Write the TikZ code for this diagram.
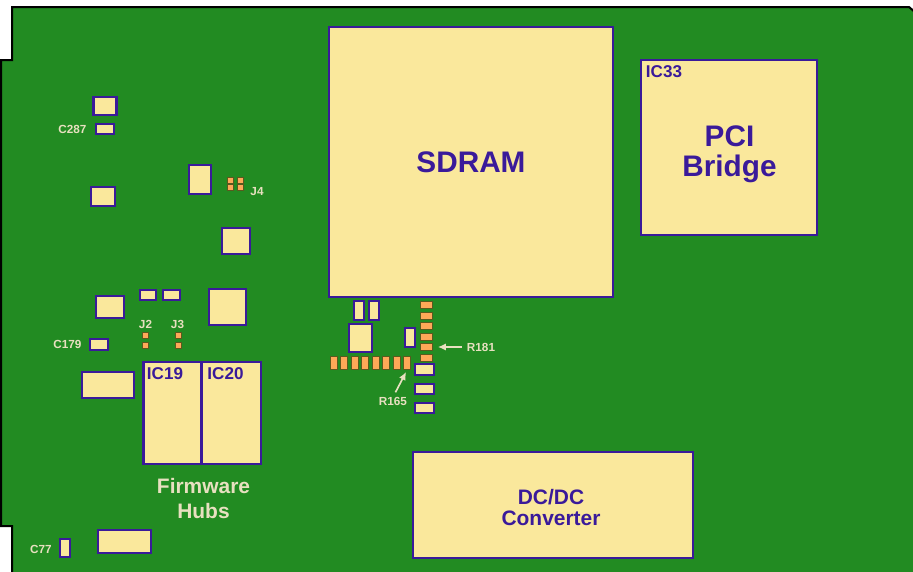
\documentclass[tikz,border=0pt]{standalone}
\usepackage{fontspec}
\setmainfont{Liberation Sans}
\usepackage{tikz}
\usetikzlibrary{positioning, arrows.meta}

\definecolor{board_green}{HTML}{228B22}
\definecolor{chip_fill}{HTML}{FAE89C}
\definecolor{chip_blue}{HTML}{3A1A9A}
\definecolor{pad_fill}{HTML}{FFA858}
\definecolor{pad_edge}{HTML}{5A5A1E}
\definecolor{note_cream}{HTML}{E8E0C0}

\begin{document}
\begin{tikzpicture}[
    x=0.75pt, y=-0.75pt,
    chip/.style 2 args = {draw=chip_blue, fill=chip_fill, line width=1.9pt, rectangle, inner sep=0pt, minimum width=#1*0.75pt, minimum height=#2*0.75pt},
    pad/.style 2 args = {draw=pad_edge, fill=pad_fill, line width=0.7pt, rectangle, inner sep=0pt, minimum width=#1*0.75pt, minimum height=#2*0.75pt},
    chip_big/.style = {text=chip_blue, font=\fontsize{22.3}{22.5}\bfseries\selectfont, align=center},
    chip_mid/.style = {text=chip_blue, font=\fontsize{15.7}{15.8}\bfseries\selectfont, align=center},
    chip_tag/.style = {text=chip_blue, font=\fontsize{12.8}{14}\bfseries\selectfont, inner sep=0pt},
    note/.style = {text=note_cream, font=\fontsize{8.8}{10}\bfseries\selectfont, inner sep=0pt},
    arrow_note/.style = {-{Latex[length=6pt, width=5.5pt]}, line width=1.25pt, note_cream}
]
\useasboundingbox (0,0) rectangle (913,571);
\clip (0,0) rectangle (913,571);

% --- Board outline ---
\draw[fill=board_green, draw=black, line width=1.5pt] (12,575) -- (12,526) -- (1,526) -- (1,60) -- (12,60) -- (12,7) -- (909,7) -- (916,13) -- (916,575) -- cycle;

% --- Large parts ---
\node[chip={284}{270}, chip_big] (sdram) at (471,162) {\raisebox{-2pt}{SDRAM}};
\node[chip={176}{175}] (ic33) at (729,147.5) {};
\node[chip={280}{106}] (dcdc) at (553,505) {};
\node[chip={58}{102}] (ic19) at (172.5,413) {};
\node[chip={59}{102}] (ic20) at (231.5,413) {};

\node[chip_tag] (ic33_label) at (664,72) {IC33};
\node[chip_big] (pci_label) at (729.5,154) {PCI\\Bridge};
\node[chip_mid] (dcdc_label) at (551,507.5) {DC/DC\\Converter};
\node[chip_tag] (ic19_label) at (165,374) {IC19};
\node[chip_tag] (ic20_label) at (225.5,374) {IC20};

% --- Small parts, left side ---
\node[chip={23}{18}] (u_top) at (105,106) {};
\node[chip={18}{10}] (c287) at (105,129) {};
\node[chip={24}{19}] (u_mid) at (103,196.5) {};
\node[chip={22}{29}] (u_tall) at (200,179.5) {};
\node[chip={28}{26}] (u_square) at (236,241) {};
\node[chip={28}{22}] (u_left) at (110,307) {};
\node[chip={16}{10}] (r_a) at (148,295) {};
\node[chip={17}{10}] (r_b) at (171.5,295) {};
\node[chip={37}{36}] (u_big) at (227.5,307) {};
\node[chip={18}{11}] (c179) at (99,344.5) {};
\node[chip={52}{26}] (u_wide) at (108,385) {};
\node[chip={53}{23}] (u_bottom) at (124.5,541.5) {};
\node[chip={10}{18}] (c77) at (65,548) {};

% --- Small parts under the SDRAM ---
\node[chip={10}{19}] (u_p1) at (359,310.5) {};
\node[chip={10}{19}] (u_p2) at (374,310.5) {};
\node[chip={23}{28}] (u_reg) at (360.5,338) {};
\node[chip={10}{19}] (u_s) at (410,337.5) {};
\node[chip={19}{11}] (c_a) at (424.5,369.5) {};
\node[chip={19}{10}] (c_b) at (424.5,389) {};
\node[chip={19}{10}] (c_c) at (424.5,408) {};

% --- Pads ---
\foreach \n/\y in {1/305, 2/315.5, 3/326, 4/336.5, 5/347, 6/357.5}
    \node[pad={12.5}{7}] (rv\n) at (426.5,\y) {};
\foreach \n/\x in {1/334, 2/344, 3/355, 4/365, 5/375.5, 6/386, 7/397, 8/407}
    \node[pad={7}{13.5}] (rh\n) at (\x,363) {};
\foreach \n/\x/\y in {1/230.5/180.5, 2/240.5/180.5, 3/230.5/187.5, 4/240.5/187.5}
    \node[pad={6.5}{6.5}] (j4\n) at (\x,\y) {};
\foreach \n/\x/\y in {1/145.5/335.5, 2/145.5/345.5}
    \node[pad={6}{6}] (j2\n) at (\x,\y) {};
\foreach \n/\x/\y in {1/178.5/335.5, 2/178.5/345.5}
    \node[pad={6}{6}] (j3\n) at (\x,\y) {};

% --- Labels ---
\node[note] (c287_label) at (72.5,129) {C287};
\node[note] (j4_label) at (257,191.5) {J4};
\node[note] (j2_label) at (145.5,324) {J2};
\node[note] (j3_label) at (177.5,324) {J3};
\node[note] (c179_label) at (67.5,344.5) {C179};
\node[note] (c77_label) at (41,549) {C77};
\node[note] (r181_label) at (481,347) {R181};
\node[note] (r165_label) at (393,401.5) {R165};
\node[text=note_cream, font=\fontsize{15.7}{18.75}\bfseries\selectfont, align=center] (hubs_label) at (203.5,499) {Firmware\\Hubs};

% --- Arrows ---
\draw[arrow_note, shorten <=3.5pt, shorten >=3.5pt] (r181_label.west) -- (rv5.east);
\draw[arrow_note, shorten <=4pt, shorten >=1.5pt] (r165_label.north) -- (rh8.south);

\end{tikzpicture}
\end{document}
